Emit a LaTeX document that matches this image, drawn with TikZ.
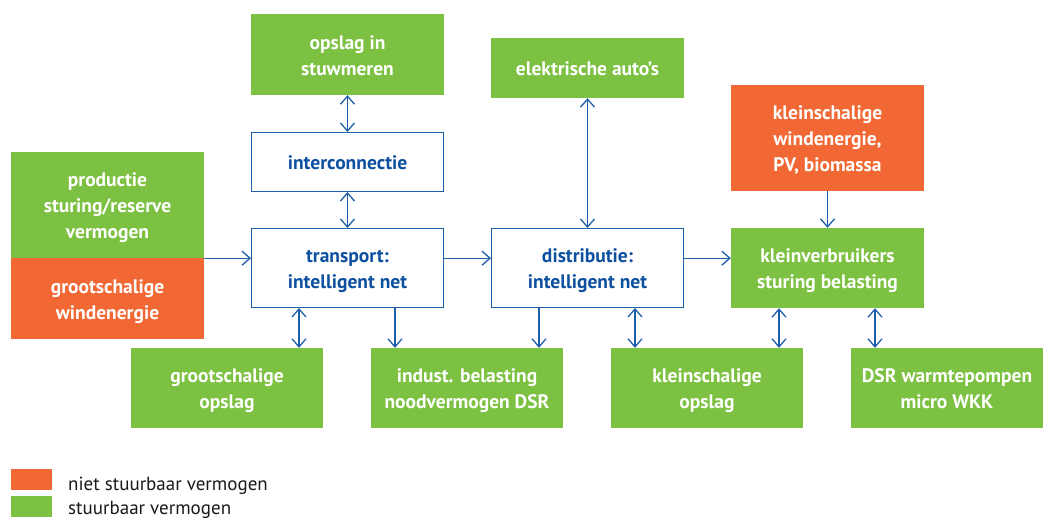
\documentclass[tikz,border=0pt]{standalone}
\usepackage{fontspec}
\setmainfont{PT Sans}
\usetikzlibrary{arrows.meta}
\definecolor{ctrlgreen}{HTML}{7DC142}
\definecolor{fixorange}{HTML}{F26835}
\definecolor{netblue}{HTML}{1F5FAA}
\definecolor{txtblue}{HTML}{0D50A0}
\tikzset{
  % text boxes are centred on their baselines: last baseline sits
  % (text height)/2 below the box centre
  box/.style={minimum width=193pt, inner sep=0pt, align=center,
    font=\bfseries\fontsize{19.5}{26}\selectfont, text=white,
    text depth=0pt, text height=41pt},
  oneline/.style={text height=15pt},
  threelines/.style={text height=67pt},
  gbox/.style={box, fill=ctrlgreen},
  obox/.style={box, fill=fixorange},
  wbox/.style={box, draw=netblue, line width=1.3pt, fill=white, text=txtblue,
    minimum width=191.7pt},
  tip/.tip={Straight Barb[length=8pt,width=14pt]},
  link/.style={draw=netblue, line width=1.3pt, -tip},
  bilink/.style={draw=netblue, line width=1.3pt, tip-tip},
  legtext/.style={anchor=base west, inner sep=0pt, text=black!90,
    font=\fontsize{19}{22}\selectfont},
}
\begin{document}
\begin{tikzpicture}[x=1pt, y=-1pt]
  \useasboundingbox (0,0) rectangle (1043,519);

  % sources on the left
  \node[gbox, threelines, minimum height=106pt] (prod) at (107.5,205) {productie\\sturing/reserve\\vermogen};
  \node[obox, minimum height=81pt] (wind) at (107.5,298.5) {grootschalige\\windenergie};

  % transport column
  \node[gbox, minimum height=81pt] (stuw) at (347.5,54.5) {opslag in\\stuwmeren};
  \node[wbox, oneline, minimum height=58.7pt] (inter) at (347.5,162) {interconnectie};
  \node[wbox, minimum height=78.7pt] (trans) at (347.5,268) {transport:\\intelligent net};

  % distribution column
  \node[gbox, oneline, minimum height=60pt] (auto) at (587.5,68) {elektrische auto’s};
  \node[wbox, minimum height=78.7pt] (distr) at (587.5,268) {distributie:\\intelligent net};

  % small consumers column
  \node[obox, threelines, minimum height=106pt] (klwind) at (827.5,138) {kleinschalige\\windenergie,\\PV, biomassa};
  \node[gbox, minimum height=80pt] (klverb) at (827.5,268) {kleinverbruikers\\sturing belasting};

  % bottom row
  \node[gbox, minimum height=80pt, minimum width=192pt] (gropsl) at (227,388) {grootschalige\\opslag};
  \node[gbox, minimum height=80pt, minimum width=192pt] (indust) at (467,388) {indust. belasting\\noodvermogen DSR};
  \node[gbox, minimum height=80pt, minimum width=192pt] (klopsl) at (707,388) {kleinschalige\\opslag};
  \node[gbox, minimum height=80pt, minimum width=192pt] (dsr) at (947,388) {DSR warmtepompen\\micro WKK};

  % vertical link positions
  \coordinate (xa) at (299,0);
  \coordinate (xb) at (395,0);
  \coordinate (xc) at (539,0);
  \coordinate (xd) at (635,0);
  \coordinate (xe) at (779,0);
  \coordinate (xf) at (875,0);
  \coordinate (feed) at (prod.south east);

  % horizontal flow
  \draw[link] (feed) -- (feed -| trans.west);
  \draw[link] (feed -| trans.east) -- (feed -| distr.west);
  \draw[link] (feed -| distr.east) -- (feed -| klverb.west);

  % vertical links
  \draw[bilink] (stuw.south) -- (inter.north);
  \draw[bilink] (inter.south) -- (trans.north);
  \draw[bilink] (auto.south) -- (distr.north);
  \draw[link] (klwind.south) -- (klverb.north);
  \draw[bilink] (trans.south -| xa) -- (gropsl.north -| xa);
  \draw[link] (trans.south -| xb) -- (indust.north -| xb);
  \draw[link] (distr.south -| xc) -- (indust.north -| xc);
  \draw[bilink] (distr.south -| xd) -- (klopsl.north -| xd);
  \draw[bilink] (klverb.south -| xe) -- (klopsl.north -| xe);
  \draw[bilink] (klverb.south -| xf) -- (dsr.north -| xf);

  % legend
  \fill[fixorange] (11,469) rectangle (52,490);
  \fill[ctrlgreen] (11,496) rectangle (52,517);
  \node[legtext] (lotext) at (68,490) {niet stuurbaar vermogen};
  \node[legtext] (lgtext) at (68,514) {stuurbaar vermogen};
\end{tikzpicture}
\end{document}
